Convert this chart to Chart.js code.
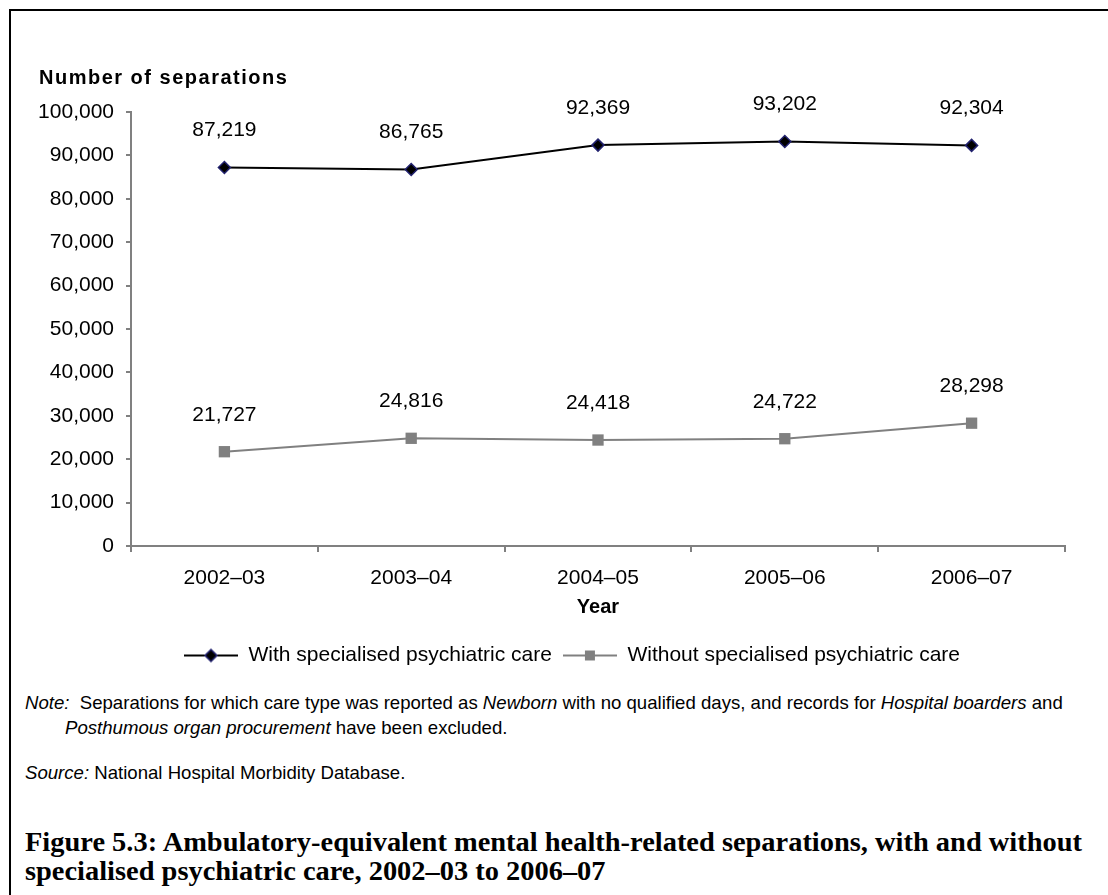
<!DOCTYPE html>
<html>
<head>
<meta charset="utf-8">
<script src="https://cdn.jsdelivr.net/npm/chart.js@4.4.1/dist/chart.umd.min.js"></script>
<style>
  html, body { margin: 0; padding: 0; background: #ffffff; }
  body { width: 1108px; height: 895px; position: relative; overflow: hidden; font-family: "Liberation Sans", Arial, sans-serif; color: #000; }
  #frame { position: absolute; left: 9px; top: 9px; width: 1110px; height: 900px; border-top: 2px solid #000; border-left: 2px solid #000; }
  #chartWrap { position: absolute; left: 0; top: 0; width: 1108px; height: 690px; }
  #ytitle { position: absolute; left: 39px; top: 64px; font: bold 20px "Liberation Sans", Arial, sans-serif; line-height: 26px; letter-spacing: 1.5px; white-space: nowrap; }
  .note { position: absolute; left: 25px; width: 1078px; font-size: 18.6px; line-height: 25px; padding-left: 40px; text-indent: -40px; box-sizing: border-box; }
  .caption { position: absolute; left: 25px; font-family: "Liberation Serif", "DejaVu Serif", serif; font-weight: bold; font-size: 27px; line-height: 29px; white-space: nowrap; transform-origin: 0 50%; }
</style>
</head>
<body>
<div id="frame"></div>
<div id="chartWrap"><canvas id="c" width="1108" height="690"></canvas></div>
<div id="ytitle">Number of separations</div>
<div class="note" style="top:690px;"><i>Note:</i>&nbsp; Separations for which care type was reported as <i>Newborn</i> with no qualified days, and records for <i>Hospital boarders</i> and <i>Posthumous organ procurement</i> have been excluded.</div>
<div class="note" style="top:760px;"><i>Source:</i> National Hospital Morbidity Database.</div>
<div class="caption" id="cap1" style="top:828px;">Figure 5.3: Ambulatory-equivalent mental health-related separations, with and without</div>
<div class="caption" id="cap2" style="top:857px;">specialised psychiatric care, 2002–03 to 2006–07</div>
<script>
// ---- data ----
const categories = ["2002–03", "2003–04", "2004–05", "2005–06", "2006–07"];
const seriesNames = ["With specialised psychiatric care", "Without specialised psychiatric care"];
const withCare = [87219, 86765, 92369, 93202, 92304];
const withoutCare = [21727, 24816, 24418, 24722, 28298];
const yTicks = [0, 10000, 20000, 30000, 40000, 50000, 60000, 70000, 80000, 90000, 100000];
const xTitle = "Year";

const fmt = v => v.toLocaleString("en-US");
const FONT = '"Liberation Sans", Arial, sans-serif';

// fit caption line 1 width
(function(){
  const c1 = document.getElementById('cap1');
  const w = c1.getBoundingClientRect().width;
  const s = 1057 / w;
  c1.style.transform = 'scaleX(' + s + ')';
  document.getElementById('cap2').style.transform = 'scaleX(' + s + ')';
})();

function legendIcon(kind) {
  const cv = document.createElement('canvas');
  cv.width = 54; cv.height = 16;
  const g = cv.getContext('2d');
  const cy = 8;
  g.lineWidth = 2;
  g.strokeStyle = kind === 0 ? '#000000' : '#808080';
  g.beginPath(); g.moveTo(0, cy); g.lineTo(54, cy); g.stroke();
  if (kind === 0) {
    g.fillStyle = '#000000'; g.strokeStyle = '#22226e'; g.lineWidth = 1.5;
    g.beginPath(); g.moveTo(27, cy - 6); g.lineTo(33, cy); g.lineTo(27, cy + 6); g.lineTo(21, cy); g.closePath();
    g.fill(); g.stroke();
  } else {
    g.fillStyle = '#808080';
    g.fillRect(22, cy - 5, 10, 10);
  }
  return cv;
}
const icons = [legendIcon(0), legendIcon(1)];

const dataLabels = {
  id: 'dataLabels',
  afterDatasetsDraw(chart) {
    const ctx = chart.ctx;
    ctx.save();
    ctx.font = '21px ' + FONT;
    ctx.fillStyle = '#000';
    ctx.textAlign = 'center';
    ctx.textBaseline = 'middle';
    chart.data.datasets.forEach((ds, i) => {
      const meta = chart.getDatasetMeta(i);
      meta.data.forEach((pt, j) => {
        ctx.fillText(fmt(ds.data[j]), pt.x, pt.y - 37);
      });
    });
    ctx.restore();
  }
};

// centre the legend under the same span as the reference (x 79..1065)
const legendShift = {
  id: 'legendShift',
  afterLayout(chart) {
    const lg = chart.legend;
    if (lg) { lg.left = 79; lg.right = 1065; }
  }
};

new Chart(document.getElementById('c'), {
  type: 'line',
  data: {
    labels: categories,
    datasets: [
      {
        label: seriesNames[0],
        data: withCare,
        borderColor: '#000000',
        borderWidth: 2,
        tension: 0,
        pointStyle: 'rectRot',
        pointRadius: 6,
        pointBackgroundColor: '#000000',
        pointBorderColor: '#22226e',
        pointBorderWidth: 1.5
      },
      {
        label: seriesNames[1],
        data: withoutCare,
        borderColor: '#808080',
        borderWidth: 2,
        tension: 0,
        pointStyle: 'rect',
        pointRadius: 8,
        pointBackgroundColor: '#808080',
        pointBorderColor: '#808080',
        pointBorderWidth: 0
      }
    ]
  },
  options: {
    responsive: false,
    animation: false,
    devicePixelRatio: 1,
    layout: { padding: { left: 30, right: 43, top: 112, bottom: 14 } },
    plugins: {
      tooltip: { enabled: false },
      legend: {
        position: 'bottom',
        labels: {
          font: { family: FONT, size: 21 },
          color: '#000',
          usePointStyle: true,
          pointStyleWidth: 54,
          boxHeight: 16,
          padding: 11,
          generateLabels(chart) {
            return chart.data.datasets.map((ds, i) => ({
              text: ds.label,
              pointStyle: icons[i],
              fillStyle: 'rgba(0,0,0,0)',
              strokeStyle: 'rgba(0,0,0,0)',
              lineWidth: 0,
              hidden: false,
              datasetIndex: i,
              fontColor: '#000'
            }));
          }
        }
      }
    },
    scales: {
      x: {
        offset: true,
        afterFit(scale) { scale.height = 88; },
        grid: { display: true, offset: true, drawOnChartArea: false, drawTicks: true, tickLength: 6, color: '#808080', lineWidth: 2 },
        border: { display: true, color: '#808080', width: 2 },
        ticks: { font: { family: FONT, size: 21 }, color: '#000', padding: 14, maxRotation: 0 },
        title: { display: true, text: xTitle, font: { family: FONT, size: 20, weight: 'bold' }, color: '#000', padding: { top: 4, bottom: 15 } }
      },
      y: {
        min: 0,
        max: 100000,
        afterBuildTicks(scale) { scale.ticks = yTicks.map(v => ({ value: v })); },
        afterFit(scale) { scale.width = 101; },
        grid: { display: true, drawOnChartArea: false, drawTicks: true, tickLength: 5, color: '#808080', lineWidth: 2 },
        border: { display: true, color: '#808080', width: 2 },
        ticks: { font: { family: FONT, size: 21 }, color: '#000', padding: 12, callback: v => fmt(v) }
      }
    }
  },
  plugins: [dataLabels, legendShift]
});
</script>
</body>
</html>
